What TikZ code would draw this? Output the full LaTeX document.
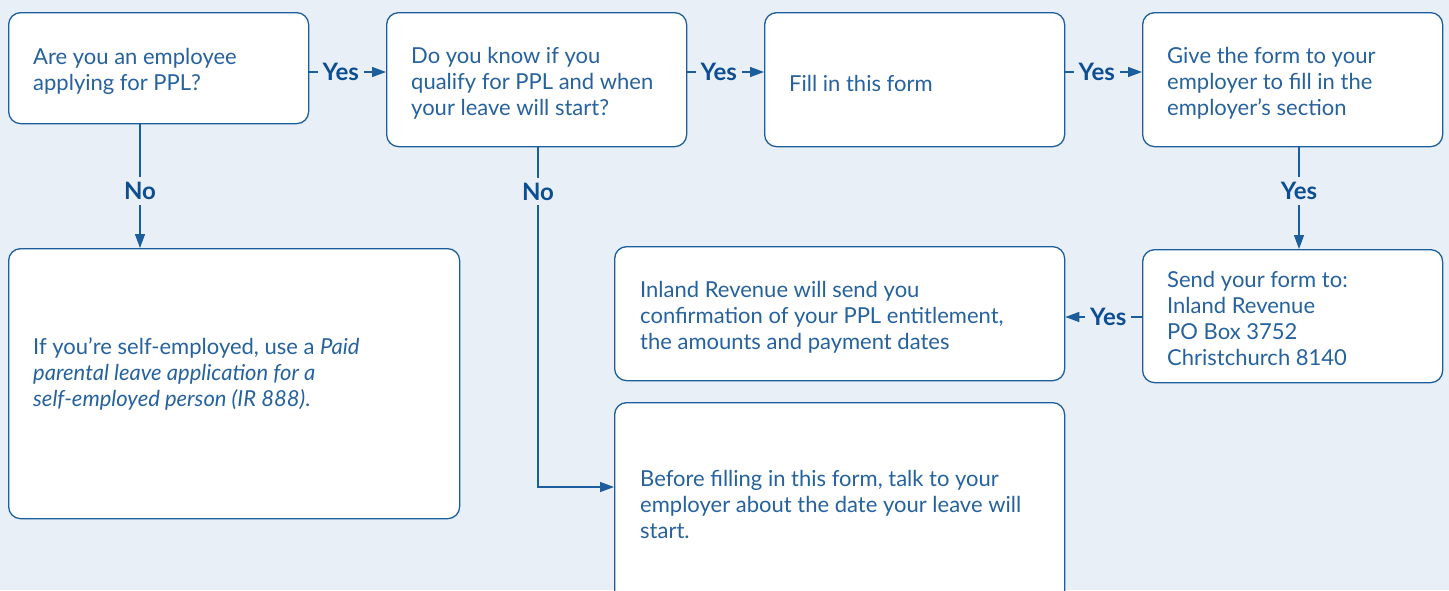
\documentclass[tikz,border=0pt]{standalone}
\usepackage{fontspec}
\setmainfont{Lato}
\usetikzlibrary{arrows.meta}
\definecolor{bg}{RGB}{233,239,247}
\definecolor{ln}{RGB}{28,94,156}
\definecolor{tx}{RGB}{38,98,158}
\definecolor{lb}{RGB}{12,78,145}
\begin{document}
\begin{tikzpicture}[x=1pt,y=-1pt,
  box/.style={draw=ln,line width=1.3pt,fill=white,rounded corners=12pt,anchor=north west,inner sep=0pt},
  txt/.style={anchor=west,inner sep=0pt,align=left,text=tx,font=\fontsize{22}{26}\selectfont},
  arr/.style={draw=ln,line width=1.3pt,-{Triangle[length=14pt,width=10pt]}},
  lbl/.style={fill=bg,text=lb,font=\bfseries\fontsize{24}{26}\selectfont,inner sep=5pt}]
\fill[bg] (0,0) rectangle (1449,590);
\useasboundingbox (0,0) rectangle (1449,590);
\node[box,minimum width=300pt,minimum height=111pt] (b1) at (8,12) {};
\node[box,minimum width=300pt,minimum height=134pt] (b2) at (386,12) {};
\node[box,minimum width=300pt,minimum height=134pt] (b3) at (764,12) {};
\node[box,minimum width=300pt,minimum height=134pt] (b4) at (1142,12) {};
\node[box,minimum width=300pt,minimum height=133pt] (b5) at (1142,249) {};
\node[box,minimum width=450pt,minimum height=134pt] (b6) at (614,246) {};
\node[box,minimum width=450pt,minimum height=202pt] (b7) at (614,402) {};
\node[box,minimum width=451pt,minimum height=270pt] (b8) at (8,248) {};
\node[txt] (t1) at (33,71) {Are you an employee\\applying for PPL?};
\node[txt] (t2) at (411,83) {Do you know if you\\qualify for PPL and when\\your leave will start?};
\node[txt] (t3) at (789,83) {Fill in this form};
\node[txt] (t4) at (1167,83) {Give the form to your\\employer to fill in the\\employer’s section};
\node[txt] (t5) at (1167,318) {Send your form to:\\Inland Revenue\\PO Box 3752\\Christchurch 8140};
\node[txt] (t6) at (640,317) {Inland Revenue will send you\\confirmation of your PPL entitlement,\\the amounts and payment dates};
\node[txt] (t7) at (640,504) {Before filling in this form, talk to your\\employer about the date your leave will\\start.};
\node[txt] (t8) at (33,374) {If you’re self-employed, use a \textit{Paid}\\\textit{parental leave application for a}\\\textit{self-employed person (IR 888)}.};
\coordinate (h72) at (0,72);
\coordinate (h317) at (0,317);
\coordinate (h487) at (0,487);
\coordinate (v140) at (140,0);
\coordinate (v538) at (538,0);
\coordinate (v1299) at (1299,0);
\draw[arr] (b1.east|-h72) -- node[lbl,pos=0.41]{Yes} (b2.west|-h72);
\draw[arr] (b2.east|-h72) -- node[lbl,pos=0.41]{Yes} (b3.west|-h72);
\draw[arr] (b3.east|-h72) -- node[lbl,pos=0.41]{Yes} (b4.west|-h72);
\draw[arr] (b4.south-|v1299) -- node[lbl,pos=0.43]{Yes} (b5.north-|v1299);
\draw[arr] (b5.west|-h317) -- node[lbl,pos=0.44]{Yes} (b6.east|-h317);
\draw[arr] (b1.south-|v140) -- node[lbl,pos=0.54]{No} (b8.north-|v140);
\draw[arr] (b2.south-|v538) |- node[lbl,pos=0.065]{No} (b7.west|-h487);
\end{tikzpicture}
\end{document}
